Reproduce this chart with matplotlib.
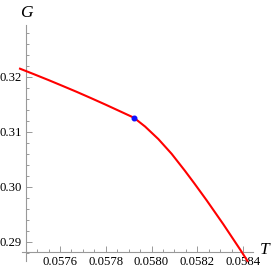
import numpy as np
import matplotlib
matplotlib.use("Agg")
import matplotlib.pyplot as plt
from matplotlib.ticker import FixedLocator, FormatStrFormatter

# curve G(T)
T = [0.057421, 0.057486, 0.057550, 0.057613, 0.057673, 0.057735, 0.057800,
     0.057860, 0.057923, 0.057972, 0.058030, 0.058088, 0.058146, 0.058187,
     0.058241, 0.058314, 0.058387, 0.058422]
G = [0.32158, 0.32051, 0.31944, 0.31835, 0.31730, 0.31617, 0.31496,
     0.31381, 0.31260, 0.31099, 0.30871, 0.30603, 0.30295, 0.30067,
     0.29758, 0.29322, 0.28866, 0.28640]

# transition point
T_c = 0.057923
G_c = 0.31260

x_major = [0.0576, 0.0578, 0.0580, 0.0582, 0.0584]
y_major = [0.29, 0.30, 0.31, 0.32]

# plot frame (pixel mapping of the original)
xlim = (0.0573377, 0.0585311)
ylim = (0.284909, 0.334)
origin = (0.0574514, 0.288182)
xbounds = (0.057434, 0.0584437)
ybounds = (0.286545, 0.329455)

plt.rcParams['font.family'] = ['Liberation Serif', 'DejaVu Serif']

fig = plt.figure(figsize=(2.73, 2.70), dpi=100)
ax = fig.add_axes([0, 0, 1, 1])
ax.patch.set_alpha(0)

ax.plot(T, G, color='#ff0000', lw=1.5, solid_capstyle='butt',
        solid_joinstyle='round', zorder=3)
ax.plot([T_c], [G_c], 'o', color='#1010ff', ms=3.3, zorder=4)

ax.set_xlim(*xlim)
ax.set_ylim(*ylim)

for s in ['top', 'right']:
    ax.spines[s].set_visible(False)
ax.spines['left'].set_position(('data', origin[0]))
ax.spines['bottom'].set_position(('data', origin[1]))
ax.spines['left'].set_bounds(*ybounds)
ax.spines['bottom'].set_bounds(*xbounds)
for s in ['left', 'bottom']:
    ax.spines[s].set_color('#999999')
    ax.spines[s].set_linewidth(0.8)

x_minor = [v for v in np.arange(0.05745, 0.05845, 0.00005)
           if xbounds[0] <= v <= xbounds[1] and min(abs(v - m) for m in x_major) > 1e-8]
y_minor = [v for v in np.arange(0.286, 0.3295, 0.002)
           if ybounds[0] <= v <= ybounds[1] and min(abs(v - m) for m in y_major) > 1e-8]

ax.xaxis.set_major_locator(FixedLocator(x_major))
ax.yaxis.set_major_locator(FixedLocator(y_major))
ax.xaxis.set_minor_locator(FixedLocator(x_minor))
ax.yaxis.set_minor_locator(FixedLocator(y_minor))
ax.xaxis.set_major_formatter(FormatStrFormatter('%.4f'))
ax.yaxis.set_major_formatter(FormatStrFormatter('%.2f'))

ax.tick_params(which='both', direction='in', color='#999999', width=0.7,
               labelsize=9.2, labelcolor='black')
ax.tick_params(which='major', length=4, pad=3)
ax.tick_params(which='minor', length=2.2)

ax.text(0.097, 0.952, 'G', transform=ax.transAxes, ha='center', va='center',
        fontsize=12.5, style='italic')
ax.text(0.968, 0.074, 'T', transform=ax.transAxes, ha='center', va='center',
        fontsize=12.5, style='italic')

fig.savefig('out.png', dpi=100)
